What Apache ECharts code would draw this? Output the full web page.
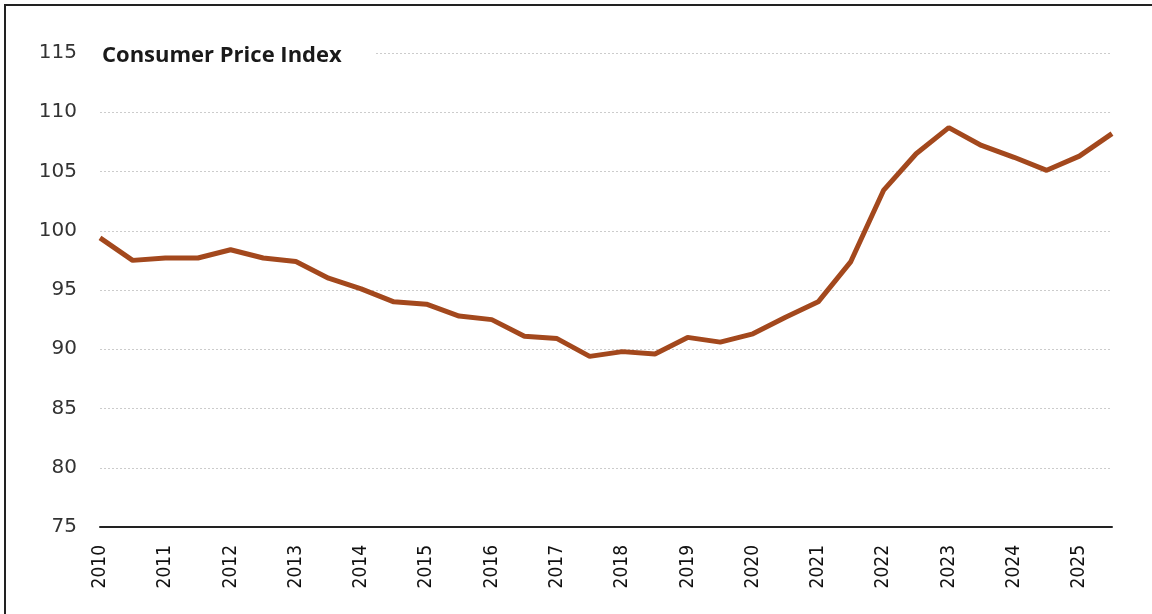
<!DOCTYPE html>
<html>
<head>
<meta charset="utf-8">
<script src="https://cdn.jsdelivr.net/npm/echarts@6/dist/echarts.min.js"></script>
<style>
  html, body { margin: 0; padding: 0; background: #fff; }
  #main { width: 1152px; height: 614px; }
</style>
</head>
<body>
<div id="main"></div>
<script>
// half-year periods, 2010 H1 .. 2025 H2
var periods = ['2010 H1','2010 H2','2011 H1','2011 H2','2012 H1','2012 H2','2013 H1','2013 H2',
  '2014 H1','2014 H2','2015 H1','2015 H2','2016 H1','2016 H2','2017 H1','2017 H2',
  '2018 H1','2018 H2','2019 H1','2019 H2','2020 H1','2020 H2','2021 H1','2021 H2',
  '2022 H1','2022 H2','2023 H1','2023 H2','2024 H1','2024 H2','2025 H1','2025 H2'];

var cpi = [99.4, 97.5, 97.7, 97.7, 98.4, 97.7, 97.4, 96.0,
  95.1, 94.0, 93.8, 92.8, 92.5, 91.1, 90.9, 89.4,
  89.8, 89.6, 91.0, 90.6, 91.3, 92.7, 94.0, 97.4,
  103.4, 106.5, 108.7, 107.2, 106.2, 105.1, 106.3, 108.2];

var yMin = 75, yMax = 115, yStep = 5;

var chart = echarts.init(document.getElementById('main'));
chart.setOption({
  animation: false,
  backgroundColor: '#fff',
  title: {
    text: 'Consumer Price Index',
    left: 97,
    top: 41,
    padding: [4, 33, 4, 5],
    backgroundColor: '#fff',
    textStyle: { fontFamily: 'Open Sans', fontWeight: 'bold', fontSize: 22, color: '#1a1a1a' }
  },
  graphic: [{
    type: 'rect',
    shape: { x: 5, y: 5, width: 1160, height: 630 },
    style: { fill: 'none', stroke: '#222', lineWidth: 2 },
    silent: true
  }],
  grid: { left: 100, right: 40, top: 53, bottom: 87 },
  xAxis: {
    type: 'category',
    data: periods,
    boundaryGap: false,
    axisLine: { lineStyle: { color: '#222', width: 2 } },
    axisTick: { show: false },
    axisLabel: {
      interval: 1,
      rotate: 90,
      margin: 18,
      color: '#111',
      fontFamily: 'DejaVu Sans Condensed, DejaVu Sans',
      fontSize: 19,
      formatter: function (v) { return v.split(' ')[0]; }
    },
    splitLine: { show: false }
  },
  yAxis: {
    type: 'value',
    min: yMin,
    max: yMax,
    interval: yStep,
    axisLine: { show: false },
    axisTick: { show: false },
    axisLabel: {
      margin: 23,
      color: '#333',
      fontFamily: 'DejaVu Sans',
      fontSize: 20
    },
    splitLine: { lineStyle: { color: '#cccccc', width: 1, type: [2, 2] } }
  },
  series: [{
    type: 'line',
    data: cpi,
    showSymbol: false,
    lineStyle: { color: '#A3481D', width: 5 }
  }]
});
</script>
</body>
</html>
